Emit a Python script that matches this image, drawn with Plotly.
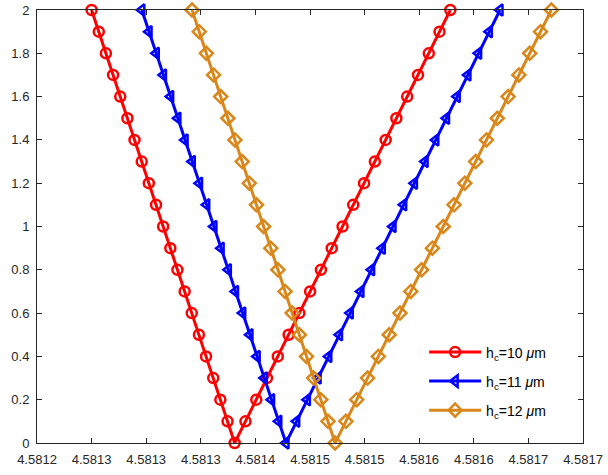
import plotly.graph_objects as go

# y values: left branch 2.0 -> 0.0, then right branch 0.1 -> 2.0
y_vals = [2.0, 1.9, 1.8, 1.7, 1.6, 1.5, 1.4, 1.3, 1.2, 1.1, 1.0, 0.9, 0.8, 0.7, 0.6, 0.5, 0.4, 0.3, 0.2, 0.1, 0.0,
          0.1, 0.2, 0.3, 0.4, 0.5, 0.6, 0.7, 0.8, 0.9, 1.0, 1.1, 1.2, 1.3, 1.4, 1.5, 1.6, 1.7, 1.8, 1.9, 2.0]

x_h10 = [4.5812500, 4.5812566, 4.5812631, 4.5812697, 4.5812762, 4.5812828, 4.5812893, 4.5812959, 4.5813024,
         4.5813090, 4.5813155, 4.5813221, 4.5813286, 4.5813352, 4.5813417, 4.5813483, 4.5813548, 4.5813614,
         4.5813679, 4.5813745, 4.5813810,
         4.5813909, 4.5814008, 4.5814106, 4.5814205, 4.5814304, 4.5814403, 4.5814501, 4.5814600, 4.5814699,
         4.5814798, 4.5814896, 4.5814995, 4.5815094, 4.5815193, 4.5815291, 4.5815390, 4.5815489, 4.5815588,
         4.5815686, 4.5815785]

x_h11 = [4.5812960, 4.5813026, 4.5813092, 4.5813158, 4.5813224, 4.5813290, 4.5813356, 4.5813422, 4.5813488,
         4.5813554, 4.5813620, 4.5813686, 4.5813752, 4.5813818, 4.5813884, 4.5813950, 4.5814016, 4.5814082,
         4.5814148, 4.5814214, 4.5814280,
         4.5814378, 4.5814476, 4.5814574, 4.5814672, 4.5814770, 4.5814868, 4.5814966, 4.5815064, 4.5815162,
         4.5815260, 4.5815358, 4.5815456, 4.5815554, 4.5815652, 4.5815750, 4.5815848, 4.5815946, 4.5816044,
         4.5816142, 4.5816240]

x_h12 = [4.5813420, 4.5813486, 4.5813551, 4.5813617, 4.5813682, 4.5813748, 4.5813813, 4.5813879, 4.5813944,
         4.5814010, 4.5814075, 4.5814141, 4.5814206, 4.5814272, 4.5814337, 4.5814403, 4.5814468, 4.5814534,
         4.5814599, 4.5814665, 4.5814730,
         4.5814829, 4.5814928, 4.5815027, 4.5815126, 4.5815225, 4.5815324, 4.5815423, 4.5815522, 4.5815621,
         4.5815720, 4.5815819, 4.5815918, 4.5816017, 4.5816116, 4.5816215, 4.5816314, 4.5816413, 4.5816512,
         4.5816611, 4.5816710]

x_tickvals = [4.58120, 4.58125, 4.58130, 4.58135, 4.58140, 4.58145, 4.58150, 4.58155, 4.58160, 4.58165, 4.58170]
x_ticktext = ["4.5812", "4.5813", "4.5813", "4.5813", "4.5814", "4.5815", "4.5815", "4.5816", "4.5816", "4.5817", "4.5817"]
y_tickvals = [0, 0.2, 0.4, 0.6, 0.8, 1.0, 1.2, 1.4, 1.6, 1.8, 2.0]
y_ticktext = ["0", "0.2", "0.4", "0.6", "0.8", "1", "1.2", "1.4", "1.6", "1.8", "2"]

series = [
    ("h<sub>c</sub>=10 <i>μ</i>m", x_h10, "#FF0000", "circle-open", "legend"),
    ("h<sub>c</sub>=11 <i>μ</i>m", x_h11, "#0000FF", "triangle-left-open", "legend2"),
    ("h<sub>c</sub>=12 <i>μ</i>m", x_h12, "#D9861A", "diamond-open", "legend3"),
]

fig = go.Figure()
for name, xs, color, sym, lg in series:
    fig.add_trace(go.Scatter(
        x=xs, y=y_vals, mode="lines+markers", name=name, legend=lg, showlegend=True,
        line=dict(color=color, width=3),
        marker=dict(symbol=sym, size=10, color=color, line=dict(width=2.5, color=color)),
        cliponaxis=False,
    ))

font = dict(family="Liberation Sans, Arial, sans-serif", size=13, color="#262626")
axcol = "#262626"

leg_common = dict(bgcolor="rgba(0,0,0,0)", borderwidth=0, xanchor="left", yanchor="middle",
                  itemwidth=52,
                  font=dict(family="Liberation Sans, Arial, sans-serif", size=14, color="#000000"))

fig.update_layout(
    width=608, height=475,
    margin=dict(l=37, r=25, t=10, b=32),
    paper_bgcolor="white", plot_bgcolor="white",
    font=font,
    showlegend=True,
    legend=dict(x=0.709, y=0.209, **leg_common),
    legend2=dict(x=0.709, y=0.142, **leg_common),
    legend3=dict(x=0.709, y=0.075, **leg_common),
    xaxis=dict(range=[4.5812, 4.5817], tickvals=x_tickvals, ticktext=x_ticktext,
               showline=True, mirror="ticks", linecolor=axcol, linewidth=1,
               ticks="inside", ticklen=5, tickcolor=axcol, showgrid=False, zeroline=False,
               ticklabelstandoff=4, automargin=False),
    yaxis=dict(range=[0, 2], tickvals=y_tickvals, ticktext=y_ticktext,
               showline=True, mirror="ticks", linecolor=axcol, linewidth=1,
               ticks="inside", ticklen=5, tickcolor=axcol, showgrid=False, zeroline=False,
               ticklabelstandoff=4, automargin=False),
)

fig.write_html("out.html")
